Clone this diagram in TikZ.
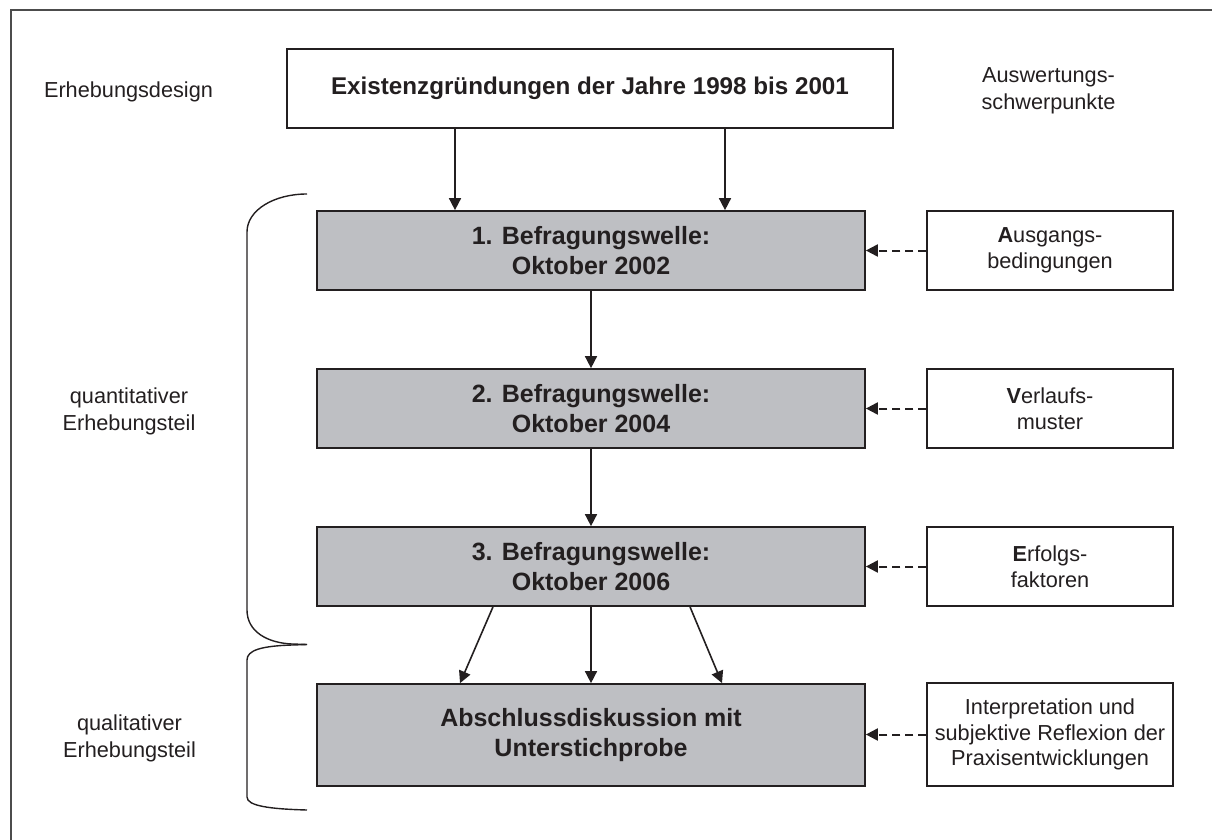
\documentclass[tikz,border=0pt]{standalone}
\usepackage{fontspec}
\setmainfont{Liberation Sans}
\usetikzlibrary{arrows.meta}

\definecolor{wellengrau}{RGB}{190,191,195}
\definecolor{tinte}{RGB}{35,31,32}

\begin{document}
\begin{tikzpicture}[x=1pt, y=-1pt, text=tinte,
    welle/.style={draw=tinte, line width=1.7pt, fill=wellengrau, inner sep=0pt,
        minimum width=548pt, minimum height=79pt, align=center,
        font=\bfseries\fontsize{25}{30}\selectfont},
    schwerpunkt/.style={draw=tinte, line width=1.5pt, fill=white, inner sep=0pt,
        minimum width=246pt, minimum height=79pt, align=center,
        font=\fontsize{21.7}{25.5}\selectfont},
    beschriftung/.style={align=center, inner sep=0pt,
        font=\fontsize{21.7}{27}\selectfont},
    pfeil/.style={draw=tinte, line width=1.6pt, -{Triangle[length=12pt,width=12pt]}},
    zufluss/.style={pfeil, line width=2pt, dash pattern=on 8pt off 5pt},
    klammer/.style={draw=tinte, line width=1.4pt}]

    % feste Bildgroesse und Rahmen (nur oben und links sichtbar)
    \useasboundingbox (0,0) rectangle (1212,840);
    \draw[gray!60!black, line width=1.5pt] (11,840) -- (11,10) -- (1212,10);

    % Erhebungsdesign: Grundgesamtheit und die Wellen
    \node[draw=tinte, line width=1.5pt, minimum width=606pt, minimum height=79pt,
        font=\bfseries\fontsize{24.2}{29}\selectfont] (gruendungen) at (590,88.5)
        {Existenzgründungen der Jahre 1998 bis 2001};
    \node[welle] (welle1) at (591,250.5) {1. Befragungswelle:\\Oktober 2002};
    \node[welle] (welle2) at (591,408.5) {2. Befragungswelle:\\Oktober 2004};
    \node[welle] (welle3) at (591,566.5) {3. Befragungswelle:\\Oktober 2006};
    \node[welle, minimum height=102pt] (abschluss) at (591,735)
        {Abschlussdiskussion mit\\Unterstichprobe};

    % Auswertungsschwerpunkte rechts
    \node[schwerpunkt] (ausgang) at (1050,250.5) {\textbf{A}usgangs-\\bedingungen};
    \node[schwerpunkt] (verlauf) at (1050,408.5) {\textbf{V}erlaufs-\\muster};
    \node[schwerpunkt] (erfolg) at (1050,566.5) {\textbf{E}rfolgs-\\faktoren};
    \node[schwerpunkt, minimum height=103pt] (reflexion) at (1050,734.5)
        {Interpretation und\\subjektive Reflexion der\\Praxisentwicklungen};

    % Beschriftungen
    \node[beschriftung] (design) at (128.5,92) {Erhebungsdesign};
    \node[beschriftung] (auswertung) at (1048.5,91) {Auswertungs-\\schwerpunkte};
    \node[beschriftung] (quanti) at (129,411) {quantitativer\\Erhebungsteil};
    \node[beschriftung] (quali) at (129.5,738) {qualitativer\\Erhebungsteil};

    % Pfeile zwischen den Wellen
    \draw[pfeil] ([xshift=-135pt]gruendungen.south) -- ([xshift=-136pt]welle1.north);
    \draw[pfeil] ([xshift=135pt]gruendungen.south) -- ([xshift=134pt]welle1.north);
    \draw[pfeil] (welle1) -- (welle2);
    \draw[pfeil] (welle2) -- (welle3);
    \draw[pfeil] ([xshift=-98pt]welle3.south) -- ([xshift=-131pt]abschluss.north);
    \draw[pfeil] (welle3) -- (abschluss);
    \draw[pfeil] ([xshift=99pt]welle3.south) -- ([xshift=131pt]abschluss.north);

    % gestrichelte Zufluesse von rechts
    \foreach \quelle/\ziel in {ausgang/welle1, verlauf/welle2, erfolg/welle3, reflexion/abschluss}
        \draw[zufluss] (\quelle.west) -- (\ziel.east |- \quelle.west);

    % Klammern links
    \coordinate (spitze) at (307,644.5);
    \draw[klammer] (307,194) .. controls (274,194) and (247,210) .. (247,232)
        -- (247,610) .. controls (247,632) and (268,643) .. (292,644) -- (spitze);
    \draw[klammer] (spitze) -- (292,645) .. controls (262,646) and (247,650) .. (247,660)
        -- (247,797) .. controls (247,806) and (270,809) .. (307,810);

\end{tikzpicture}
\end{document}
